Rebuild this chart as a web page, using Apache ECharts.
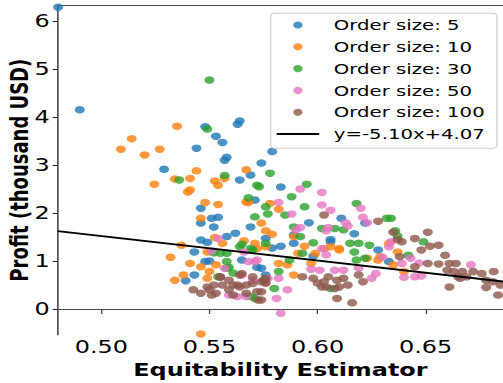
<!DOCTYPE html>
<html>
<head>
<meta charset="utf-8">
<script src="https://cdn.jsdelivr.net/npm/echarts@6/dist/echarts.min.js"></script>
<style>
html, body { margin: 0; padding: 0; background: #fff; overflow: hidden; }
#chart { width: 378px; height: 383px; transform: scaleX(1.3307); transform-origin: 0 0; }
</style>
</head>
<body>
<div id="chart"></div>
<script>
// the reference picture is stretched sideways, so the chart is drawn narrow and scaled in x
var size5 = [
  [0.480, 6.29], [0.490, 4.15], [0.548, 3.80], [0.553, 3.60], [0.556, 3.47], [0.544, 3.35],
  [0.563, 3.85], [0.564, 3.92], [0.557, 3.10], [0.558, 3.16], [0.529, 2.91], [0.564, 2.69],
  [0.569, 2.79], [0.574, 3.04], [0.579, 3.28], [0.583, 2.54], [0.571, 2.27], [0.546, 2.10],
  [0.551, 1.89], [0.554, 1.91], [0.546, 1.79], [0.552, 1.71], [0.546, 1.44], [0.549, 1.39],
  [0.558, 1.51], [0.562, 1.58], [0.543, 1.19], [0.548, 0.99], [0.550, 1.00], [0.543, 0.71],
  [0.539, 0.59], [0.565, 1.02], [0.569, 1.71], [0.572, 0.87], [0.596, 1.80], [0.611, 1.89],
  [0.606, 1.45], [0.622, 1.79], [0.576, 1.47], [0.583, 1.31], [0.589, 1.54], [0.589, 1.37],
  [0.606, 1.40], [0.628, 1.23], [0.576, 0.71], [0.574, 0.85], [0.579, 1.27], [0.633, 0.99],
  [0.598, 1.10], [0.617, 1.57]
];
var size10 = [
  [0.509, 3.33], [0.514, 3.55], [0.520, 3.21], [0.527, 3.33], [0.535, 3.81], [0.5245, 2.60],
  [0.534, 2.71], [0.541, 2.72], [0.544, 2.88], [0.5525, 2.67], [0.554, 2.58], [0.557, 2.72],
  [0.567, 2.90], [0.541, 2.48], [0.548, 2.22], [0.554, 2.18], [0.568, 2.22], [0.546, 1.89],
  [0.537, 1.33], [0.532, 1.08], [0.541, 0.95], [0.538, 0.71], [0.534, 0.60], [0.5525, 1.49],
  [0.556, 1.37], [0.549, 1.19], [0.553, 0.92], [0.550, 0.78], [0.549, 0.64], [0.566, 1.42],
  [0.571, 1.37], [0.572, 1.26], [0.576, 1.30], [0.574, 1.79], [0.576, 1.63], [0.546, -0.52],
  [0.540, 2.44], [0.546, 0.88], [0.567, 2.23], [0.578, 2.20], [0.582, 2.08], [0.579, 1.56],
  [0.589, 1.51], [0.594, 1.31], [0.603, 1.26], [0.606, 1.30], [0.610, 1.26], [0.582, 0.95],
  [0.586, 0.92], [0.591, 1.16], [0.599, 1.16], [0.610, 1.23], [0.597, 0.95], [0.589, 0.71],
  [0.623, 1.06], [0.628, 1.02], [0.629, 1.09], [0.635, 0.92], [0.637, 1.19], [0.640, 0.78],
  [0.633, 1.37]
];
var size30 = [
  [0.550, 4.77], [0.549, 3.75], [0.557, 2.78], [0.536, 2.69], [0.572, 2.58], [0.568, 2.32],
  [0.578, 2.83], [0.595, 2.60], [0.588, 2.34], [0.576, 2.13], [0.571, 1.92], [0.559, 0.87],
  [0.561, 0.75], [0.558, 0.99], [0.552, 1.17], [0.555, 1.16], [0.558, 1.16], [0.558, 0.85],
  [0.554, 0.67], [0.564, 1.30], [0.570, 1.23], [0.576, 1.37], [0.569, 0.26], [0.571, 0.22],
  [0.594, 2.13], [0.618, 2.20], [0.577, 1.98], [0.585, 1.96], [0.589, 1.71], [0.592, 1.51],
  [0.602, 1.68], [0.608, 1.68], [0.612, 1.65], [0.615, 1.37], [0.619, 1.37], [0.624, 1.33],
  [0.598, 1.38], [0.632, 1.89], [0.573, 2.55], [0.617, 1.19], [0.618, 1.02], [0.622, 1.06],
  [0.582, 0.78], [0.580, 0.43], [0.587, 1.02], [0.606, 0.43], [0.593, 1.16], [0.634, 1.89],
  [0.636, 1.63], [0.649, 1.40], [0.642, 1.12], [0.637, 1.52], [0.569, 1.26], [0.565, 1.35]
];
var size50 = [
  [0.592, 2.50], [0.602, 2.43], [0.602, 2.17], [0.606, 2.06], [0.582, 2.22], [0.588, 1.98],
  [0.620, 2.10], [0.621, 1.91], [0.623, 1.80], [0.613, 1.80], [0.614, 1.73], [0.592, 1.70],
  [0.590, 1.65], [0.605, 1.70], [0.604, 1.63], [0.602, 1.26], [0.604, 1.13], [0.582, 0.64],
  [0.586, 0.40], [0.581, 0.22], [0.583, -0.09], [0.601, 0.81], [0.597, 0.83], [0.608, 0.81],
  [0.612, 0.81], [0.619, 0.85], [0.627, 0.74], [0.625, 0.64], [0.633, 1.30], [0.634, 1.40],
  [0.630, 1.08], [0.639, 0.95], [0.643, 1.06], [0.647, 0.96], [0.640, 0.66], [0.645, 0.67],
  [0.648, 0.69], [0.671, 0.92], [0.554, 1.47], [0.551, 1.21], [0.557, 0.85], [0.568, 0.99],
  [0.571, 0.99], [0.565, 0.71], [0.559, 0.29], [0.563, 0.26], [0.567, 0.26], [0.576, 0.54],
  [0.577, 0.64], [0.570, 0.60], [0.572, 1.02], [0.566, 1.19]
];
var size100 = [
  [0.555, 0.67], [0.559, 0.60], [0.564, 0.71], [0.556, 0.50], [0.561, 0.50], [0.564, 0.46],
  [0.567, 0.50], [0.549, 0.46], [0.550, 0.40], [0.546, 0.33], [0.551, 0.29], [0.553, 0.33],
  [0.5425, 0.40], [0.559, 0.40], [0.561, 0.29], [0.567, 0.33], [0.572, 0.36], [0.5725, 0.19],
  [0.574, 0.57], [0.576, 0.64], [0.565, 0.74], [0.570, 0.67], [0.552, 0.50], [0.555, 0.66],
  [0.563, 0.50], [0.570, 0.53], [0.575, 0.60], [0.576, 0.54], [0.574, 0.36], [0.574, 0.19],
  [0.593, 0.67], [0.598, 0.64], [0.600, 0.54], [0.602, 0.46], [0.605, 0.67], [0.609, 0.60],
  [0.612, 0.64], [0.614, 0.50], [0.610, 0.46], [0.604, 0.46], [0.608, 0.43], [0.619, 0.71],
  [0.621, 0.57], [0.609, 0.22], [0.616, 0.13], [0.603, 0.57], [0.603, 1.96], [0.628, 1.83],
  [0.635, 1.60], [0.639, 1.40], [0.637, 1.45], [0.645, 1.47], [0.651, 1.60], [0.648, 1.23],
  [0.652, 1.31], [0.656, 1.33], [0.638, 1.09], [0.651, 0.95], [0.656, 0.94], [0.659, 1.12],
  [0.645, 0.88], [0.661, 0.95], [0.664, 0.95], [0.660, 0.81], [0.663, 0.78], [0.667, 0.78],
  [0.665, 0.67], [0.669, 0.67], [0.672, 0.78], [0.676, 0.74], [0.6815, 0.78], [0.678, 0.60],
  [0.681, 0.57], [0.678, 0.45], [0.6846, 0.50], [0.6835, 0.29], [0.661, 0.46], [0.666, 0.64]
];

var groups = [size5, size10, size30, size50, size100];
var groupNames = ["Order size: 5", "Order size: 10", "Order size: 30", "Order size: 50", "Order size: 100"];
var colors = ["#1f77b4", "#ff7f0e", "#2ca02c", "#e377c2", "#8c564b"];

var slope = -5.10;
var intercept = 4.07;
var xTicks = [0.50, 0.55, 0.60, 0.65];
var yTicks = [0, 1, 2, 3, 4, 5, 6];
var xMin = 0.4798, xMax = 0.6858;
var yMin = -0.535, yMax = 6.32;

var lineName = "y=" + slope.toFixed(2) + "x+" + intercept.toFixed(2);
var fitLine = [[xMin, slope * xMin + intercept], [xMax, slope * xMax + intercept]];

var font = "DejaVu Sans";

var series = groups.map(function (d, i) {
    return {
        name: groupNames[i],
        type: "scatter",
        data: d,
        symbol: "circle",
        symbolSize: 7.5,
        itemStyle: { color: colors[i] },
        z: 2
    };
});
series.push({
    name: lineName,
    type: "line",
    data: fitLine,
    symbol: "none",
    lineStyle: { color: "#000", width: 2 },
    itemStyle: { color: "#000" },
    z: 10
});

var legendData = groupNames.map(function (n) { return { name: n, icon: "circle" }; });
legendData.push({ name: lineName, icon: "path://M0,0L32,0L32,2L0,2Z" });

var chart = echarts.init(document.getElementById("chart"), null, { renderer: "svg" });
chart.setOption({
    animation: false,
    grid: { left: 43.4, right: 0, top: 5.7, bottom: 48.3, containLabel: false, outerBoundsMode: "none" },
    legend: {
        data: legendData,
        orient: "vertical",
        left: 203.4,
        top: 13.3,
        itemWidth: 32,
        itemHeight: 7,
        itemGap: 5.8,
        padding: [3.7, 9, 6.3, 4.5],
        backgroundColor: "rgba(255,255,255,0.8)",
        borderColor: "#d0d0d0",
        borderWidth: 1,
        borderRadius: 3,
        selectedMode: false,
        textStyle: { fontSize: 14.8, fontFamily: font, color: "#000", lineHeight: 16, padding: [0, 0, 0, 6] }
    },
    xAxis: [
        {
            type: "value",
            min: xMin,
            max: xMax,
            name: "Equitability Estimator",
            nameLocation: "middle",
            nameGap: 26,
            nameMoveOverlap: false,
            nameTextStyle: { fontSize: 18, lineHeight: 18, fontWeight: "bold", fontFamily: font, color: "#000" },
            axisLine: { show: true, lineStyle: { color: "#444", width: 1 } },
            axisTick: { show: true, customValues: xTicks, length: 5, lineStyle: { color: "#444" } },
            axisLabel: {
                customValues: xTicks,
                formatter: function (v) { return v.toFixed(2); },
                fontSize: 18, lineHeight: 16, fontFamily: font, color: "#000", margin: 4
            },
            splitLine: { show: false }
        },
        {
            type: "value",
            position: "top",
            min: xMin,
            max: xMax,
            axisLine: { show: true, lineStyle: { color: "#444", width: 1 } },
            axisTick: { show: false },
            axisLabel: { show: false },
            splitLine: { show: false }
        }
    ],
    yAxis: {
        type: "value",
        min: yMin,
        max: yMax,
        name: "Profit (thousand USD)",
        nameLocation: "middle",
        nameGap: 20,
        nameRotate: 90,
        nameMoveOverlap: false,
        nameTextStyle: { fontSize: 18, fontWeight: "bold", fontFamily: font, color: "#000" },
        axisLine: { show: true, lineStyle: { color: "#222", width: 1 } },
        axisTick: { show: true, customValues: yTicks, length: 3.8, lineStyle: { color: "#222" } },
        axisLabel: { customValues: yTicks, fontSize: 18, fontFamily: font, color: "#000", margin: 6 },
        splitLine: { show: false }
    },
    series: series
});
</script>
</body>
</html>
